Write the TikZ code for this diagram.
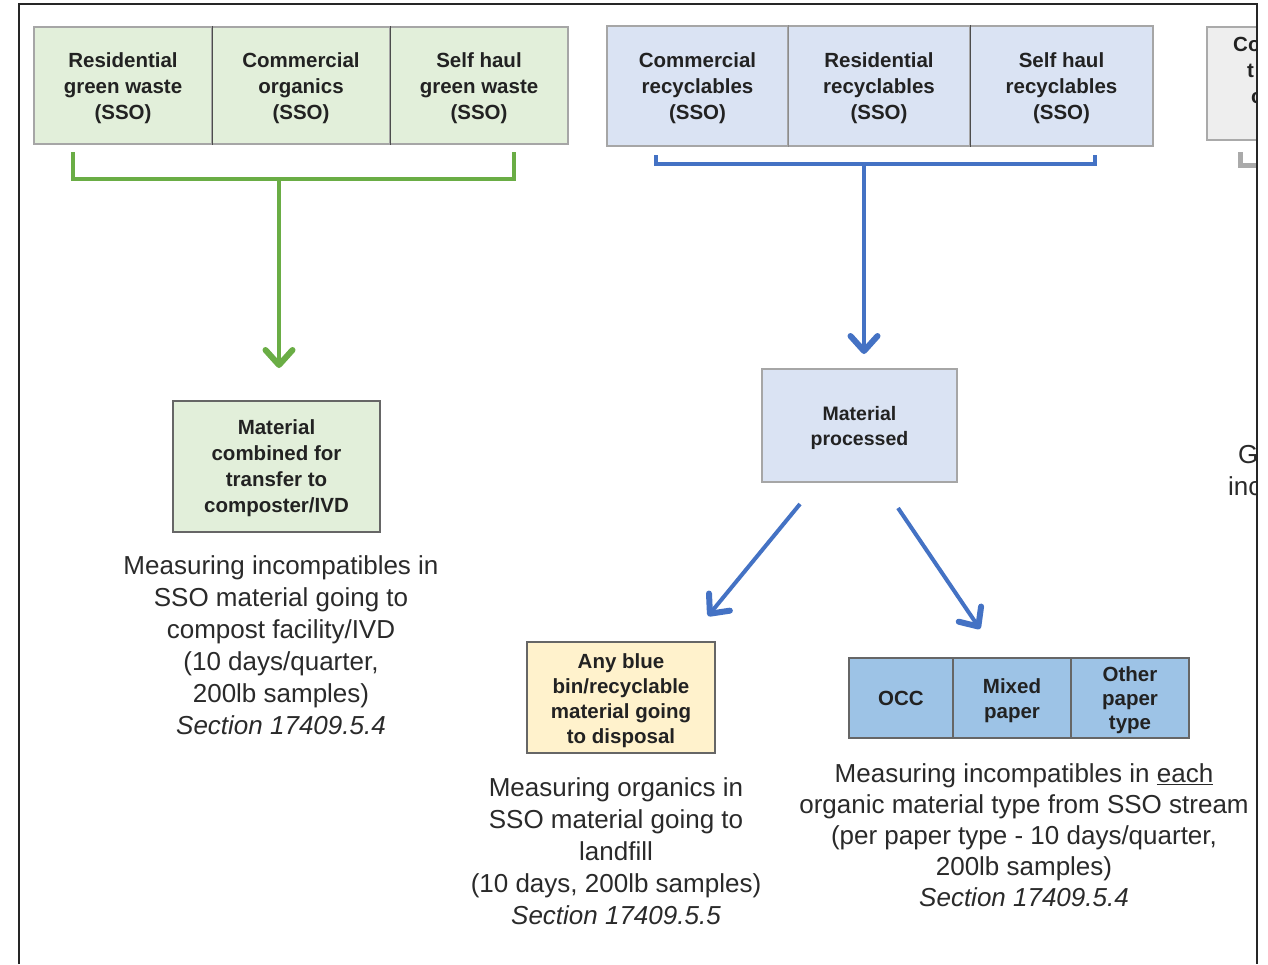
\documentclass[tikz,border=0pt]{standalone}
\usepackage{fontspec}
\setmainfont{Liberation Sans}
\usetikzlibrary{arrows.meta}
\definecolor{gfill}{HTML}{E2EFDA}
\definecolor{gline}{HTML}{6AAD45}
\definecolor{bfill}{HTML}{DAE3F3}
\definecolor{bline}{HTML}{4472C4}
\definecolor{yfill}{HTML}{FFF2CC}
\definecolor{pfill}{HTML}{9DC3E6}
\definecolor{greyfill}{HTML}{EEEEEE}
\definecolor{greyline}{HTML}{AAAAAA}
\definecolor{txt}{HTML}{222222}
\definecolor{dtxt}{HTML}{2A2A2A}
\begin{document}
\begin{tikzpicture}[x=1pt,y=-1pt,
  topbox/.style={draw=black!35, line width=1.2pt, inner sep=0pt},
  midbox/.style={draw=black!60, line width=1.5pt, inner sep=0pt},
  boxtext/.style={inner sep=0pt, align=center, text=txt, yshift=-2.5pt,
    font=\fontsize{20.5}{26}\selectfont\bfseries},
  divider/.style={draw=black!70, line width=1.2pt},
  desc/.style={inner sep=0pt, align=center, text=dtxt, anchor=north,
    font=\fontsize{26}{32}\selectfont},
  frag/.style={inner sep=0pt, anchor=base west, text=txt},
  greenconn/.style={draw=gline, line width=4pt},
  blueconn/.style={draw=bline, line width=4pt},
  tip/.style={-{Straight Barb[length=15pt,width=27pt,line width=6pt,round]}}
]
\useasboundingbox (0,0) rectangle (1268,964);
\fill[white] (0,0) rectangle (1268,964);
\begin{scope}
\clip (0,0) rectangle (1257,964);
% ---- green top group
\node[topbox, fill=gfill, minimum width=178, minimum height=117] (g1) at (123,85.5) {};
\node[topbox, fill=gfill, minimum width=178, minimum height=117] (g2) at (301,85.5) {};
\node[topbox, fill=gfill, minimum width=178, minimum height=117] (g3) at (479,85.5) {};
\node[boxtext] (g1t) at (g1) {Residential\\green waste\\(SSO)};
\node[boxtext] (g2t) at (g2) {Commercial\\organics\\(SSO)};
\node[boxtext] (g3t) at (g3) {Self haul\\green waste\\(SSO)};
\draw[divider] (g1.north east) -- (g1.south east);
\draw[divider] (g2.north east) -- (g2.south east);
% ---- blue top group
\node[topbox, fill=bfill, minimum width=181, minimum height=120] (b1) at (697.5,86) {};
\node[topbox, fill=bfill, minimum width=182, minimum height=120] (b2) at (879,86) {};
\node[topbox, fill=bfill, minimum width=183, minimum height=120] (b3) at (1061.5,86) {};
\node[boxtext, yshift=0.5pt] (b1t) at (b1) {Commercial\\recyclables\\(SSO)};
\node[boxtext, yshift=0.5pt] (b2t) at (b2) {Residential\\recyclables\\(SSO)};
\node[boxtext, yshift=0.5pt] (b3t) at (b3) {Self haul\\recyclables\\(SSO)};
\draw[divider, draw=black!45] (b1.north east) -- (b1.south east);
\draw[divider] (b2.north east) -- (b2.south east);
% ---- grey (cut off) group
\node[draw=greyline, line width=1.2pt, fill=greyfill, minimum width=180, minimum height=113, inner sep=0pt] (k1) at (1297,83.5) {};
\node[frag, font=\fontsize{20.5}{26}\selectfont\bfseries] (k1a) at (1233,51) {Co};
\node[frag, font=\fontsize{20.5}{26}\selectfont\bfseries] (k1b) at (1247,77) {t};
\node[frag, font=\fontsize{20.5}{26}\selectfont\bfseries] (k1c) at (1251,103) {c};
\coordinate (kb1) at (1240,152);
\coordinate (kb2) at (1300,165);
\draw[draw=greyline, line width=5pt] (kb1) |- (kb2);
\node[frag, font=\fontsize{26}{32}\selectfont, text=dtxt] (kt1) at (1238,463) {G};
\node[frag, font=\fontsize{26}{32}\selectfont, text=dtxt] (kt2) at (1228,495) {inc};
% ---- middle boxes
\node[midbox, fill=gfill, minimum width=207, minimum height=131] (comb) at (276.5,466.5) {};
\node[boxtext, yshift=0.5pt] (combt) at (comb) {Material\\combined for\\transfer to\\composter/IVD};
\node[midbox, draw=black!35, fill=bfill, minimum width=195, minimum height=113] (proc) at (859.5,425.5) {};
\node[boxtext, yshift=0.5pt, font=\fontsize{19.5}{25}\selectfont\bfseries] (proct) at (proc) {Material\\processed};
\node[midbox, fill=yfill, minimum width=188, minimum height=111] (disp) at (621,697.5) {};
\node[boxtext, yshift=-0.5pt, font=\fontsize{20.5}{25}\selectfont\bfseries] (dispt) at (disp) {Any blue\\bin/recyclable\\material going\\to disposal};
% ---- paper group
\node[midbox, fill=pfill, minimum width=104, minimum height=80] (p1) at (901,698) {};
\node[midbox, fill=pfill, minimum width=118, minimum height=80] (p2) at (1012,698) {};
\node[midbox, fill=pfill, minimum width=118, minimum height=80] (p3) at (1130,698) {};
\node[boxtext, yshift=2.5pt] (p1t) at (p1) {OCC};
\node[boxtext, yshift=-0.5pt, font=\fontsize{20.5}{25}\selectfont\bfseries] (p2t) at (p2) {Mixed\\paper};
\node[boxtext, yshift=0pt, font=\fontsize{20.5}{24}\selectfont\bfseries] (p3t) at (p3) {Other\\paper\\type};
% ---- green connectors
\coordinate (ga) at (73,152);
\coordinate (gb) at (514,152);
\coordinate (gm) at (279,179);
\coordinate (gt) at (279,368);
\draw[greenconn, line join=miter] (ga) |- (gm) -| (gb);
\draw[greenconn, tip] (gm) -- (gt);
% ---- blue connectors
\coordinate (ba) at (656,155);
\coordinate (bb) at (1095,155);
\coordinate (bm) at (864,164);
\coordinate (bt) at (864,354);
\draw[blueconn, line join=miter] (ba) |- (bm) -| (bb);
\draw[blueconn, tip] (bm) -- (bt);
\coordinate (pl0) at (800,504);
\coordinate (pl1) at (708,616);
\coordinate (pr0) at (898,508);
\coordinate (pr1) at (980,629);
\draw[blueconn, tip] (pl0) -- (pl1);
\draw[blueconn, tip] (pr0) -- (pr1);
% ---- descriptions
\node[desc] (d1) at (281,555) {Measuring incompatibles in\\SSO material going to\\compost facility/IVD\\(10 days/quarter,\\200lb samples)\\\textit{Section 17409.5.4}};
\node[desc] (d2) at (616,777) {Measuring organics in\\SSO material going to\\landfill\\(10 days, 200lb samples)\\\textit{Section 17409.5.5}};
\node[desc, font=\fontsize{26}{31}\selectfont] (d3) at (1024,763) {Measuring incompatibles in \underline{each}\\organic material type from SSO stream\\(per paper type - 10 days/quarter,\\200lb samples)\\\textit{Section 17409.5.4}};
\end{scope}
% ---- frame
\coordinate (f1) at (19,964);
\coordinate (f2) at (1257,4);
\coordinate (f3) at (1257,964);
\draw[line width=2pt, black!85] (f1) |- (f2) -- (f3);
\end{tikzpicture}
\end{document}
